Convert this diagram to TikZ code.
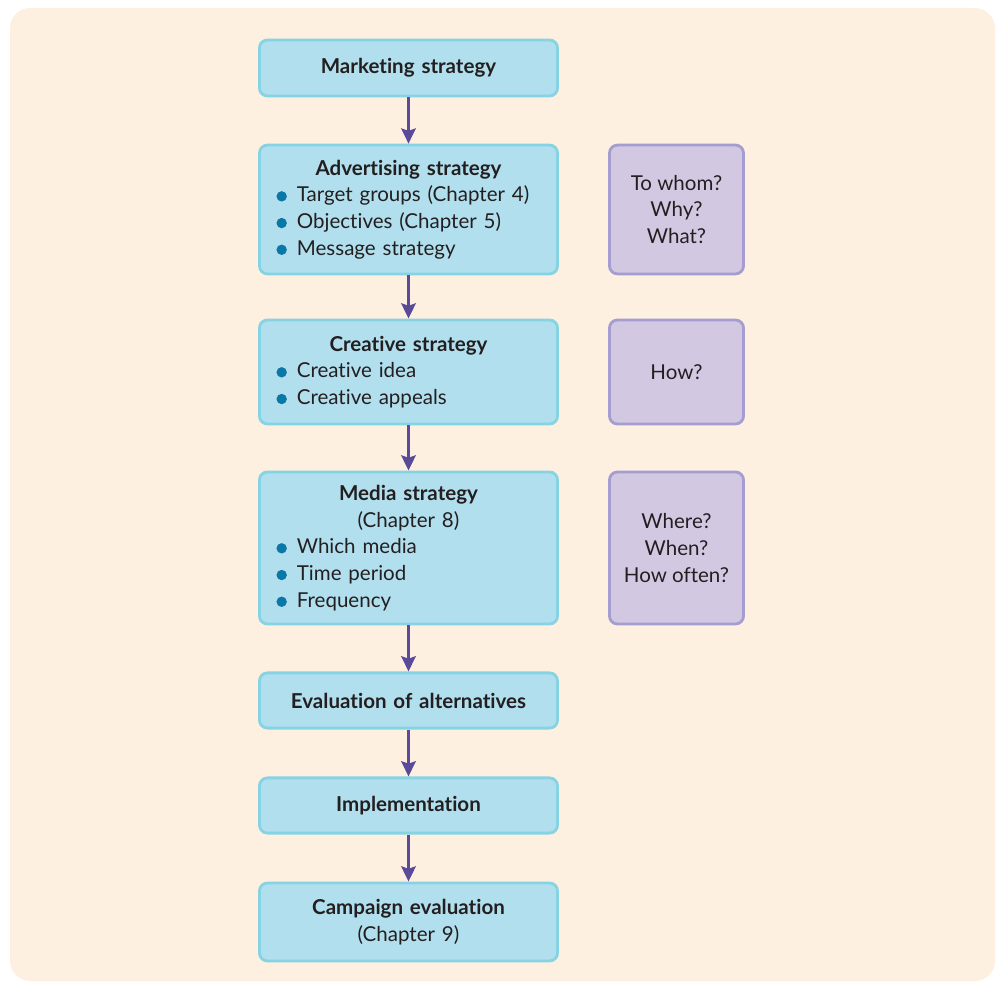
\documentclass[tikz,border=0pt]{standalone}
\usepackage{fontspec}
\setmainfont{Lato}[RawFeature={-liga}]
\usetikzlibrary{arrows.meta}

\definecolor{bgcream}{HTML}{FDF0E1}
\definecolor{boxblue}{HTML}{B1DFEE}
\definecolor{lineblue}{HTML}{86D3E3}
\definecolor{boxlilac}{HTML}{D3C8E2}
\definecolor{linelilac}{HTML}{A59DD0}
\definecolor{arrowpurple}{HTML}{5A4B9A}
\definecolor{dotblue}{HTML}{0A78A6}
\definecolor{inktext}{HTML}{231F20}

\newcommand{\bdot}{\tikz[baseline=-0.27em]\fill[dotblue] (0,0) circle[radius=0.13cm];\hspace{0.25cm}}

\tikzset{
  stagebox/.style={draw=lineblue, fill=boxblue, line width=0.07cm, rounded corners=0.2cm,
    minimum width=7.45cm, text width=6.6cm, align=left, inner sep=0pt, text=inktext,
    font=\fontsize{14.6}{19}\selectfont},
  askbox/.style={draw=linelilac, fill=boxlilac, line width=0.07cm, rounded corners=0.2cm,
    minimum width=3.35cm, align=center, inner sep=0pt, text=inktext,
    font=\fontsize{14.6}{19}\selectfont},
  flow/.style={draw=arrowpurple, line width=0.075cm, -{Stealth[length=0.38cm, width=0.36cm, inset=0.06cm]}}
}

\newcommand{\head}[1]{{\centering\bfseries #1\par}}

\begin{document}
\begin{tikzpicture}[x=0.025cm, y=-0.025cm]
\useasboundingbox (0,0) rectangle (995,983);
\fill[bgcream, rounded corners=0.5cm] (10,8) rectangle (995,981);

\node[stagebox, minimum height=1.4cm] (mkt) at (408.5,68) {\head{Marketing strategy}};
\node[stagebox, minimum height=3.22cm] (adv) at (408.5,209.5) {\head{Advertising strategy}
  \bdot Target groups (Chapter 4)\\
  \bdot Objectives (Chapter 5)\\
  \bdot Message strategy};
\node[stagebox, minimum height=2.6cm] (cre) at (408.5,372) {\head{Creative strategy}
  \bdot Creative idea\\
  \bdot Creative appeals};
\node[stagebox, minimum height=3.8cm] (med) at (408.5,548) {\head{Media strategy}
  {\centering (Chapter 8)\par}
  \bdot Which media\\
  \bdot Time period\\
  \bdot Frequency};
\node[stagebox, minimum height=1.38cm] (eva) at (408.5,700.5) {\head{Evaluation of alternatives}};
\node[stagebox, minimum height=1.38cm] (imp) at (408.5,805.5) {\head{Implementation}};
\node[stagebox, minimum height=1.95cm] (cam) at (408.5,922) {\head{Campaign evaluation}
  {\centering (Chapter 9)\par}};

\node[askbox, minimum height=3.22cm] (q1) at (676.5,209.5) {To whom?\\Why?\\What?};
\node[askbox, minimum height=2.6cm] (q2) at (676.5,372) {How?};
\node[askbox, minimum height=3.8cm] (q3) at (676.5,548) {Where?\\When?\\How often?};

\draw[flow] (mkt) -- (adv);
\draw[flow] (adv) -- (cre);
\draw[flow] (cre) -- (med);
\draw[flow] (med) -- (eva);
\draw[flow] (eva) -- (imp);
\draw[flow] (imp) -- (cam);
\end{tikzpicture}
\end{document}
